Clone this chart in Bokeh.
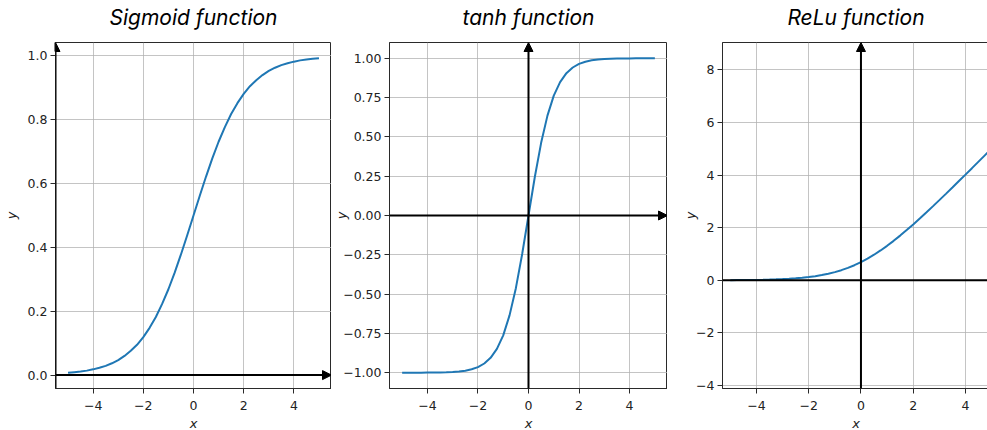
from bokeh.plotting import figure
from bokeh.layouts import row
from bokeh.models import Arrow, NormalHead, FixedTicker, Range1d
from bokeh.embed import file_html
from bokeh.resources import INLINE

# ---------------- data ----------------
x_vals = [-5.0, -4.75, -4.5, -4.25, -4.0, -3.75, -3.5, -3.25, -3.0, -2.75, -2.5,
          -2.25, -2.0, -1.75, -1.5, -1.25, -1.0, -0.75, -0.5, -0.25, 0.0,
          0.25, 0.5, 0.75, 1.0, 1.25, 1.5, 1.75, 2.0, 2.25, 2.5,
          2.75, 3.0, 3.25, 3.5, 3.75, 4.0, 4.25, 4.5, 4.75, 5.0]
sigmoid_y = [0.007, 0.009, 0.011, 0.014, 0.018, 0.023, 0.029, 0.037, 0.047, 0.060, 0.076,
             0.095, 0.119, 0.148, 0.182, 0.223, 0.269, 0.321, 0.378, 0.438, 0.500,
             0.562, 0.622, 0.679, 0.731, 0.777, 0.818, 0.852, 0.881, 0.905, 0.924,
             0.940, 0.953, 0.963, 0.971, 0.977, 0.982, 0.986, 0.989, 0.991, 0.993]
tanh_y = [-1.000, -1.000, -1.000, -1.000, -0.999, -0.999, -0.998, -0.997, -0.995, -0.992, -0.987,
          -0.978, -0.964, -0.941, -0.905, -0.848, -0.762, -0.635, -0.462, -0.245, 0.000,
          0.245, 0.462, 0.635, 0.762, 0.848, 0.905, 0.941, 0.964, 0.978, 0.987,
          0.992, 0.995, 0.997, 0.998, 0.999, 0.999, 1.000, 1.000, 1.000, 1.000]
relu_y = [0.007, 0.009, 0.011, 0.014, 0.018, 0.023, 0.030, 0.038, 0.049, 0.062, 0.079,
          0.100, 0.127, 0.160, 0.201, 0.252, 0.313, 0.387, 0.474, 0.576, 0.693,
          0.826, 0.974, 1.137, 1.313, 1.502, 1.701, 1.910, 2.127, 2.350, 2.579,
          2.812, 3.049, 3.288, 3.530, 3.773, 4.018, 4.264, 4.511, 4.759, 5.007]

titles = ["Sigmoid function", "tanh function", "ReLu function"]
x_ticks = [-4, -2, 0, 2, 4]
x_tick_labels = ["\u22124", "\u22122", "0", "2", "4"]
sig_ticks = [0.0, 0.2, 0.4, 0.6, 0.8, 1.0]
sig_tick_labels = ["0.0", "0.2", "0.4", "0.6", "0.8", "1.0"]
tanh_ticks = [-1.0, -0.75, -0.5, -0.25, 0.0, 0.25, 0.5, 0.75, 1.0]
tanh_tick_labels = ["\u22121.00", "\u22120.75", "\u22120.50", "\u22120.25", "0.00",
                    "0.25", "0.50", "0.75", "1.00"]
relu_ticks = [-4, -2, 0, 2, 4, 6, 8]
relu_tick_labels = ["\u22124", "\u22122", "0", "2", "4", "6", "8"]

# ---------------- styling / layout ----------------
LINE_COLOR = "#1f77b4"
TICK_FONT = "DejaVu Sans"
FRAME_H = 346
TOP = 54
BOTTOM = 40


def make_panel(title, ys, xr, yr, yticks, ylabels, left_border, frame_w, ylab_standoff,
               title_offset=0):
    p = figure(frame_width=frame_w, frame_height=FRAME_H,
               min_border_left=left_border, min_border_right=0,
               min_border_top=TOP, min_border_bottom=BOTTOM,
               x_range=Range1d(*xr), y_range=Range1d(*yr),
               output_backend="svg", toolbar_location=None,
               background_fill_color="white", border_fill_color="white")
    p.title.text = title
    p.title.text_font = "Inter"
    p.title.text_font_style = "italic"
    p.title.text_font_size = "21px"
    p.title.text_color = "black"
    p.title.align = "center"
    p.title.standoff = 25
    p.title.offset = title_offset

    p.outline_line_color = "#2a2a2a"
    p.outline_line_width = 1

    for ax in (p.xaxis[0], p.yaxis[0]):
        ax.axis_line_color = "#2a2a2a"
        ax.major_tick_line_color = "#2a2a2a"
        ax.major_tick_out = 5
        ax.major_tick_in = 0
        ax.minor_tick_line_color = None
        ax.major_label_text_font = TICK_FONT
        ax.major_label_text_font_size = "12.5px"
        ax.major_label_text_color = "#222222"
        ax.axis_label_text_font = TICK_FONT
        ax.axis_label_text_font_style = "italic"
        ax.axis_label_text_font_size = "13px"
        ax.axis_label_text_color = "#222222"

    p.xaxis.ticker = FixedTicker(ticks=x_ticks)
    p.xaxis.major_label_overrides = dict(zip(x_ticks, x_tick_labels))
    p.xaxis.major_label_standoff = 7
    p.xaxis.axis_label = "x"
    p.xaxis.axis_label_standoff = 3

    p.yaxis.ticker = FixedTicker(ticks=yticks)
    p.yaxis.major_label_overrides = dict(zip(yticks, ylabels))
    p.yaxis.major_label_standoff = 3
    p.yaxis.axis_label = "y"
    p.yaxis.axis_label_standoff = ylab_standoff

    for g in (p.xgrid[0], p.ygrid[0]):
        g.grid_line_color = "#b0b0b0"
        g.grid_line_alpha = 0.75
        g.grid_line_width = 1

    p.line(x_vals, ys, line_color=LINE_COLOR, line_width=2)
    return p


def arrow(p, x0, y0, x1, y1):
    p.add_layout(Arrow(end=NormalHead(size=9, fill_color="black", line_color="black"),
                       x_start=x0, y_start=y0, x_end=x1, y_end=y1,
                       line_color="black", line_width=2))


# panel 1 : sigmoid
xr1 = (-5.5, 5.5)
yr1 = (-0.042, 1.042)
p1 = make_panel(titles[0], sigmoid_y, xr1, yr1, sig_ticks, sig_tick_labels, 48, 276, 6)
arrow(p1, xr1[0], yr1[0], xr1[0], yr1[1])
arrow(p1, xr1[0], 0, xr1[1], 0)

# panel 2 : tanh
xr2 = (-5.5, 5.5)
yr2 = (-1.1, 1.1)
p2 = make_panel(titles[1], tanh_y, xr2, yr2, tanh_ticks, tanh_tick_labels, 55, 278, -9)
arrow(p2, 0, yr2[0], 0, yr2[1])
arrow(p2, xr2[0], 0, xr2[1], 0)

# panel 3 : "ReLu" (smooth)
xr3 = (-5.3, 4.92)
x3_full_end = 5.3
yr3 = (-4.11, 9.04)
p3 = make_panel(titles[2], relu_y, xr3, yr3, relu_ticks, relu_tick_labels, 55, 267, -5,
                title_offset=5)
arrow(p3, 0, yr3[0], 0, yr3[1])
arrow(p3, xr3[0], 0, x3_full_end, 0)

layout = row(p1, p2, p3, spacing=0)
layout.styles = {"margin-top": "-12px", "margin-bottom": "-8px"}

open("out.html", "w").write(file_html(layout, INLINE))
